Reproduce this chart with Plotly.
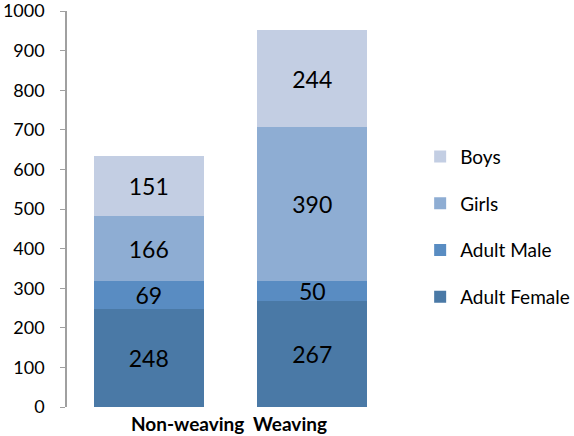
import plotly.graph_objects as go

categories = ["Non-weaving", "Weaving"]
adult_female = [248, 267]
adult_male = [69, 50]
girls = [166, 390]
boys = [151, 244]
y_ticks = [0, 100, 200, 300, 400, 500, 600, 700, 800, 900, 1000]

SERIES = [
    ("Adult Female", adult_female, "#4a79a6", 4),
    ("Adult Male", adult_male, "#598cc2", 3),
    ("Girls", girls, "#8eadd3", 2),
    ("Boys", boys, "#c3cee3", 1),
]

FONT = "Lato, 'Open Sans', sans-serif"

fig = go.Figure()
for name, values, color, rank in SERIES:
    fig.add_bar(
        name=name,
        x=categories,
        y=values,
        marker=dict(color=color, line=dict(width=0)),
        text=values,
        textposition="inside",
        insidetextanchor="middle",
        textangle=0,
        textfont=dict(size=23, color="black", family=FONT),
        legendgroup=name,
        legendrank=rank,
    )

# category labels sit a bit off-centre in the original
label_pos = [0.24, 0.865]
for cat, pos in zip(categories, label_pos):
    fig.add_annotation(
        x=pos, y=0, xref="x", yref="paper", yshift=-30, text=f"<b>{cat}</b>",
        showarrow=False, font=dict(size=19, color="black", family=FONT),
    )

fig.update_layout(
    width=574,
    height=436,
    barmode="stack",
    bargap=0.325,
    paper_bgcolor="white",
    plot_bgcolor="white",
    font=dict(family=FONT, color="black"),
    margin=dict(l=67, r=180, t=11, b=29, autoexpand=False),
    uniformtext=dict(minsize=23, mode="show"),
    legend=dict(
        x=1.08, y=0.68, xanchor="left", yanchor="top",
        traceorder="grouped", tracegroupgap=19,
        font=dict(size=19, family=FONT),
        itemwidth=30,
    ),
    showlegend=True,
)
fig.update_xaxes(showticklabels=False, showline=False, ticks="", automargin=False)
fig.update_yaxes(
    range=[0, 1000],
    tickvals=y_ticks,
    showgrid=False,
    showline=True,
    linecolor="#a0a0a0",
    linewidth=1.5,
    ticks="outside",
    ticklen=5,
    tickcolor="#a0a0a0",
    tickfont=dict(size=18, family=FONT),
    ticklabelstandoff=12,
    ticklabeloverflow="allow",
    zeroline=False,
    automargin=False,
)

fig.write_html(
    "out.html",
    config={"displayModeBar": False},
    post_script="document.body.style.margin='0';",
)
